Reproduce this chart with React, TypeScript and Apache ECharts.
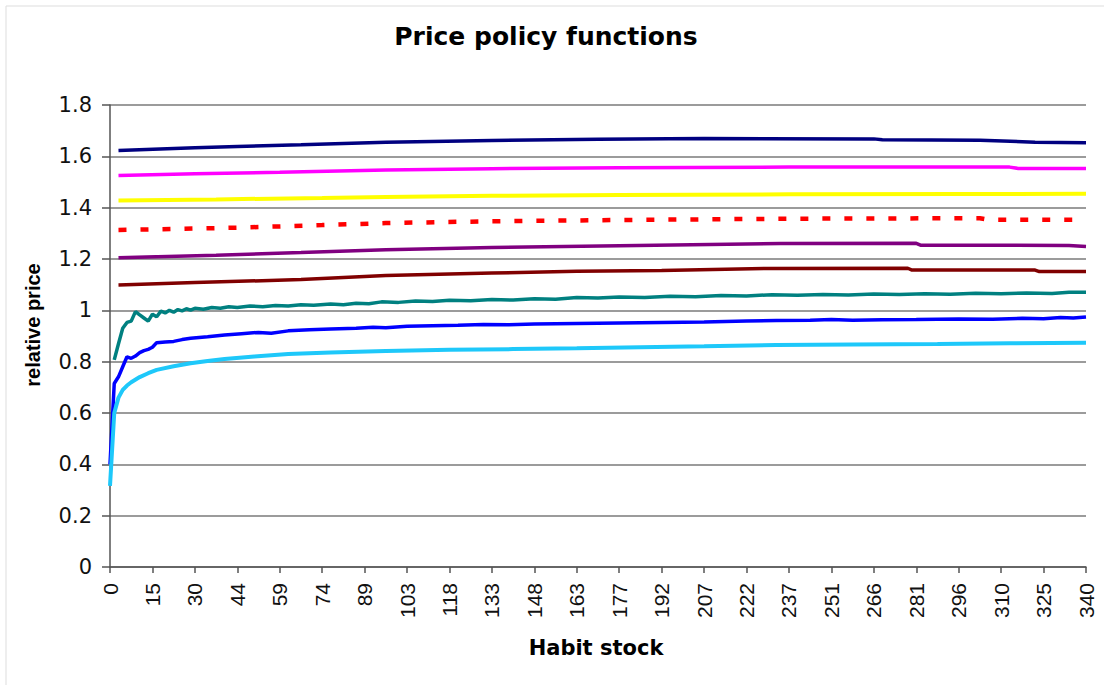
import React, { useEffect, useRef } from "react";
import * as echarts from "echarts";

const titleText = "Price policy functions";
const xName = "Habit stock";
const yName = "relative price";

// x tick labels (one every 10 categories; 231 categories in all)
const tickLabels = ["0", "15", "30", "44", "59", "74", "89", "103", "118", "133", "148", "163", "177", "192", "207", "222", "237", "251", "266", "281", "296", "310", "325", "340"];
const categoryCount = 231;
const categories: string[] = Array.from({ length: categoryCount }, (_, i) => (i % 10 === 0 ? tickLabels[i / 10] : ""));

// series: [category index, relative price]
const navy = [[2, 1.623], [20, 1.633], [30, 1.638], [45, 1.645], [65, 1.655], [90, 1.662], [115, 1.667], [140, 1.669], [180, 1.668], [182, 1.665], [205, 1.663], [218, 1.655], [230, 1.653]];
const magenta = [[2, 1.525], [20, 1.532], [40, 1.538], [65, 1.547], [90, 1.552], [120, 1.556], [160, 1.558], [212, 1.558], [214, 1.553], [230, 1.553]];
const yellow = [[2, 1.428], [25, 1.432], [50, 1.438], [65, 1.442], [90, 1.446], [120, 1.449], [160, 1.452], [200, 1.453], [230, 1.454]];
const red = [[2, 1.313], [30, 1.322], [50, 1.332], [65, 1.34], [90, 1.347], [120, 1.352], [160, 1.357], [205, 1.359], [207, 1.353], [230, 1.353]];
const purple = [[2, 1.205], [25, 1.215], [45, 1.225], [65, 1.236], [90, 1.245], [120, 1.252], [158, 1.26], [190, 1.261], [191, 1.254], [226, 1.253], [230, 1.249]];
const darkRed = [[2, 1.099], [20, 1.108], [45, 1.12], [65, 1.136], [90, 1.145], [110, 1.152], [130, 1.155], [155, 1.163], [188, 1.164], [189, 1.157], [218, 1.157], [219, 1.151], [230, 1.151]];
const teal = [[1, 0.807], [2, 0.87], [3, 0.93], [4, 0.953], [5, 0.958], [6, 0.995], [7, 0.982], [8, 0.97], [9, 0.958], [10, 0.985], [11, 0.975], [12, 0.997], [13, 0.99], [14, 1.0], [15, 0.993], [16, 1.003], [17, 0.998], [18, 1.006], [19, 1.001], [20, 1.008], [22, 1.004], [24, 1.011], [26, 1.008], [28, 1.014], [30, 1.011], [33, 1.017], [36, 1.014], [39, 1.019], [42, 1.017], [45, 1.022], [48, 1.02], [52, 1.025], [55, 1.022], [58, 1.028], [61, 1.026], [64, 1.033], [68, 1.031], [72, 1.036], [76, 1.034], [80, 1.039], [85, 1.037], [90, 1.042], [95, 1.04], [100, 1.045], [105, 1.043], [110, 1.05], [115, 1.048], [120, 1.052], [126, 1.05], [132, 1.055], [138, 1.053], [144, 1.058], [150, 1.056], [156, 1.061], [162, 1.059], [168, 1.062], [174, 1.06], [180, 1.064], [186, 1.062], [192, 1.065], [198, 1.063], [204, 1.067], [210, 1.065], [216, 1.068], [222, 1.066], [226, 1.07], [230, 1.07]];
const blue = [[0, 0.4], [1, 0.715], [2, 0.741], [3, 0.78], [4, 0.819], [5, 0.813], [6, 0.822], [7, 0.835], [8, 0.843], [9, 0.848], [10, 0.856], [11, 0.874], [13, 0.877], [15, 0.879], [17, 0.886], [19, 0.891], [23, 0.897], [27, 0.904], [31, 0.909], [35, 0.914], [38, 0.911], [42, 0.92], [47, 0.924], [52, 0.927], [58, 0.93], [62, 0.934], [65, 0.932], [70, 0.938], [76, 0.94], [82, 0.942], [88, 0.945], [94, 0.944], [100, 0.947], [110, 0.949], [120, 0.951], [130, 0.953], [140, 0.955], [150, 0.958], [157, 0.96], [165, 0.961], [170, 0.964], [175, 0.961], [182, 0.963], [190, 0.964], [200, 0.966], [208, 0.965], [215, 0.969], [220, 0.967], [224, 0.972], [227, 0.97], [230, 0.974]];
const cyan = [[0, 0.316], [1, 0.6], [2, 0.66], [3, 0.69], [4, 0.707], [5, 0.72], [7, 0.74], [9, 0.755], [11, 0.768], [15, 0.782], [19, 0.794], [23, 0.803], [27, 0.81], [34, 0.82], [42, 0.83], [52, 0.836], [65, 0.842], [80, 0.846], [95, 0.849], [110, 0.852], [125, 0.856], [140, 0.86], [157, 0.865], [175, 0.867], [195, 0.869], [212, 0.872], [230, 0.874]];

const seriesDefs = [
  { name: "s1", data: navy, color: "#000080", width: 3.5, dash: "solid" as any },
  { name: "s2", data: magenta, color: "#FF00FF", width: 3.5, dash: "solid" as any },
  { name: "s3", data: yellow, color: "#FFFF00", width: 4, dash: "solid" as any },
  { name: "s4", data: red, color: "#FF0000", width: 4.5, dash: [8, 14] as any },
  { name: "s5", data: purple, color: "#800080", width: 3.5, dash: "solid" as any },
  { name: "s6", data: darkRed, color: "#800000", width: 3.5, dash: "solid" as any },
  { name: "s7", data: teal, color: "#008080", width: 3.5, dash: "solid" as any },
  { name: "s8", data: blue, color: "#0000FF", width: 3.5, dash: "solid" as any },
  { name: "s9", data: cyan, color: "#1EC8FA", width: 4, dash: "solid" as any },
];

export default function App() {
  const ref = useRef<HTMLDivElement>(null);
  useEffect(() => {
    if (!ref.current) return;
    const chart = echarts.init(ref.current, null, { renderer: "svg" });
    chart.setOption({
      animation: false,
      backgroundColor: "#ffffff",
      grid: { left: 110, right: 18, top: 105, bottom: 118, containLabel: false },
      xAxis: {
        type: "category",
        data: categories,
        boundaryGap: false,
        axisLine: { show: true, lineStyle: { color: "#555555", width: 1.5 } },
        axisTick: { show: true, interval: 9, length: 6, lineStyle: { color: "#555555", width: 1.5 } },
        axisLabel: {
          interval: 9,
          rotate: 90,
          margin: 16,
          color: "#111111",
          fontFamily: "Liberation Sans",
          fontSize: 21,
        },
        splitLine: { show: false },
      },
      yAxis: {
        type: "value",
        min: 0,
        max: 1.8,
        interval: 0.2,
        axisLine: { show: true, lineStyle: { color: "#555555", width: 1.5 } },
        axisTick: { show: true, length: 8, lineStyle: { color: "#555555", width: 1.5 } },
        axisLabel: { margin: 18, color: "#111111", fontFamily: "DejaVu Sans", fontSize: 21 },
        splitLine: { show: true, lineStyle: { color: "#7a7a7a", width: 1.5 } },
      },
      graphic: [
        { type: "rect", shape: { x: 6, y: 6, width: 1200, height: 800 }, style: { fill: "none", stroke: "#dddddd", lineWidth: 1 }, silent: true },
        { type: "text", x: 546, y: 36, style: { text: titleText, font: "bold 25px 'DejaVu Sans'", fill: "#000", textAlign: "center", textVerticalAlign: "middle" } },
        { type: "text", x: 596, y: 648, style: { text: xName, font: "bold 21px 'DejaVu Sans'", fill: "#000", textAlign: "center", textVerticalAlign: "middle" } },
        { type: "text", x: 33, y: 325, rotation: Math.PI / 2, style: { text: yName, font: "bold 20px 'Liberation Sans'", fill: "#000", textAlign: "center", textVerticalAlign: "middle" } },
      ],
      series: seriesDefs.map((s) => ({
        name: s.name,
        type: "line",
        data: s.data,
        showSymbol: false,
        symbol: "none",
        smooth: false,
        lineStyle: { color: s.color, width: s.width, type: s.dash, cap: "butt" },
        itemStyle: { color: s.color },
      })),
    });
    return () => chart.dispose();
  }, []);
  return <div ref={ref} style={{ position: "fixed", left: 0, top: 0, width: 1104, height: 685 }} />;
}
